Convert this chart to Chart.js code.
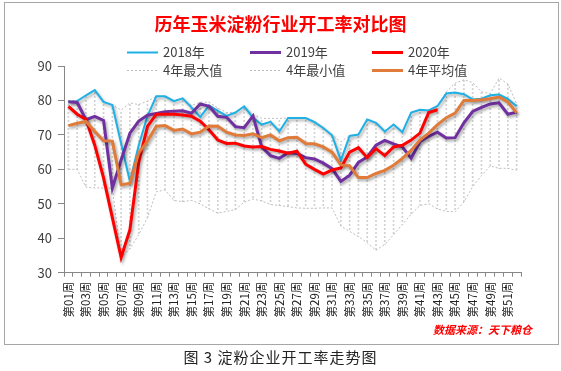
<!DOCTYPE html>
<html lang="zh">
<head>
<meta charset="UTF-8">
<title>历年玉米淀粉行业开工率对比图</title>
<script src="https://cdn.jsdelivr.net/npm/chart.js@4"></script>
<style>
  html, body { margin: 0; padding: 0; background: #fff; }
  body { width: 561px; height: 371px; position: relative; overflow: hidden; font-family: "Noto Sans CJK SC", sans-serif; }
  #frame { position: absolute; left: 4px; top: 2px; width: 553px; height: 341px; border: 1px solid #a6a6a6; }
  #wrap { position: absolute; left: 0; top: 0; width: 561px; height: 371px; }
  #caption { position: absolute; left: 0; top: 348px; width: 561px; text-align: center; font-size: 15px; line-height: 18px; letter-spacing: 1px; color: #222; }
</style>
</head>
<body>
<div id="frame"></div>
<div id="wrap"><canvas id="chart"></canvas></div>
<div id="caption">图 3 淀粉企业开工率走势图</div>
<script>
const FONT = '"Noto Sans CJK SC", "Noto Sans", sans-serif';

const weeks = ['第01周','第02周','第03周','第04周','第05周','第06周','第07周','第08周','第09周','第10周',
  '第11周','第12周','第13周','第14周','第15周','第16周','第17周','第18周','第19周','第20周',
  '第21周','第22周','第23周','第24周','第25周','第26周','第27周','第28周','第29周','第30周',
  '第31周','第32周','第33周','第34周','第35周','第36周','第37周','第38周','第39周','第40周',
  '第41周','第42周','第43周','第44周','第45周','第46周','第47周','第48周','第49周','第50周',
  '第51周','第52周'];

const y2018 = [79.5, 79.8, 81.5, 83, 79.6, 78.7, 67.5, 56.5, 67, 75.5,
  81.2, 81.2, 79.8, 80.6, 78, 75.2, 78.5, 77, 75.5, 76.5,
  78.3, 75, 73, 73.8, 71, 74.9, 74.9, 74.9, 73.7, 72,
  69.9, 62.6, 69.7, 70.1, 74.5, 73.5, 71, 73, 70.8, 76.5,
  77.3, 77.1, 78.4, 82, 82.3, 81.8, 80.3, 80.5, 81.5, 81.7,
  80.5, 78.3];

const y2019 = [79.6, 79.4, 74.4, 75.4, 74.2, 54.6, 62.7, 70.5, 74, 75.7,
  76.2, 76.7, 76.9, 77, 76.3, 79, 78.3, 75.4, 75.1, 72.4,
  72.1, 75.5, 66.5, 64, 63.2, 64.8, 64.6, 63.4, 63, 61.8,
  60.2, 56.5, 58.3, 62, 63.6, 67, 68.4, 67.4, 66.5, 63.2,
  68, 69.6, 70.8, 69.1, 69.2, 73.5, 76.8, 78, 79, 79.3,
  76, 76.6];

const y2020 = [78.3, 76, 74.5, 67, 57.5, 46, 34.4, 42.5, 62, 72.5,
  76, 76, 76, 75.8, 75.4, 74, 71.5, 68.5, 67.5, 67.6,
  66.8, 66.5, 66.6, 65.8, 65.3, 64.7, 65.3, 61.5, 60, 58.6,
  59.8, 60.4, 65, 66.3, 63.4, 66, 64, 66.5, 67, 68.5,
  70.5, 76.5, 77.3, null, null, null, null, null, null, null,
  null, null];

const max4 = [80, 80, 81.5, 83, 79.6, 78.7, 77.2, 79.3, 78.8, 79.8,
  81.2, 81.2, 80, 80.6, 78.5, 79.5, 79.5, 77.8, 76.5, 76.5,
  78.3, 76, 74.8, 74.8, 74.8, 74.9, 74.9, 74.9, 74, 72,
  70, 68, 69.8, 70.1, 74.5, 73.5, 71, 73, 70.8, 76.5,
  77.3, 77.1, 78.4, 82.5, 85, 86, 85.2, 82.5, 82, 86.5,
  84.8, 79];

const min4 = [60, 60, 54.8, 54.6, 54.6, 54.5, 34.4, 37, 41, 46,
  53.5, 54, 51, 50.6, 51, 50, 48.5, 47.3, 47.8, 48.3,
  50.5, 51.4, 50.8, 49.8, 49.5, 49.2, 48.8, 48.7, 48.7, 48.8,
  48.8, 43.5, 42, 40.5, 38.7, 36.5, 38.2, 41, 44, 47,
  49.5, 50, 48.5, 47.8, 47.7, 50.5, 55, 58.2, 61, 60.3,
  60.3, 59.7];

const avg4 = [72.7, 73.4, 73.9, 71, 68.3, 68.2, 55.5, 56, 64.8, 68.2,
  72.5, 72.7, 71.3, 71.7, 70.3, 70.8, 72.6, 72.5, 70.8, 70,
  69.8, 70.3, 69.2, 70, 68.3, 69.2, 69.3, 67.5, 67.4, 66.5,
  65, 61.3, 61, 57.6, 57.6, 58.8, 59.7, 61.2, 63.2, 65.5,
  68.5, 70.5, 73, 75, 76.3, 80, 80, 80.2, 80.5, 81,
  79.6, 76.4];

const yTicks = [30, 40, 50, 60, 70, 80, 90];

// dashed vertical hatch between min and max (high-low lines)
function dashPattern() {
  const c = document.createElement('canvas');
  c.width = 1; c.height = 4;
  const g = c.getContext('2d');
  g.fillStyle = '#d2d2d2';
  g.fillRect(0, 0, 1, 2);
  return g.createPattern(c, 'repeat');
}

const shadowPlugin = {
  id: 'lineShadow',
  beforeDatasetDraw(chart, args) {
    if (!chart.data.datasets[args.index].shadow) return;
    const ctx = chart.ctx;
    ctx.save();
    ctx.shadowColor = 'rgba(0,0,0,0.35)';
    ctx.shadowBlur = 3;
    ctx.shadowOffsetX = 1.5;
    ctx.shadowOffsetY = 2;
  },
  afterDatasetDraw(chart, args) {
    if (chart.data.datasets[args.index].shadow) chart.ctx.restore();
  }
};

// legend in fixed columns, like the original
const legendOrder = ['2018年', '2019年', '2020年', '4年最大值', '4年最小值', '4年平均值'];
const legendPlugin = {
  id: 'gridLegend',
  afterDraw(chart) {
    const ctx = chart.ctx;
    const colX = [127, 250, 372];
    const rowY = [52.5, 70.5];
    ctx.save();
    ctx.font = '13px ' + FONT;
    ctx.textBaseline = 'middle';
    ctx.fillStyle = '#404040';
    legendOrder.forEach((name, k) => {
      const ds = chart.data.datasets.find(d => d.label === name);
      const x = colX[k % 3], y = rowY[Math.floor(k / 3)];
      ctx.strokeStyle = ds.borderColor;
      ctx.lineWidth = ds.borderWidth;
      ctx.setLineDash(ds.borderDash || []);
      ctx.beginPath();
      ctx.moveTo(x, y);
      ctx.lineTo(x + 31, y);
      ctx.stroke();
      ctx.setLineDash([]);
      ctx.fillText(name, x + 36, y);
    });
    // source note
    ctx.font = 'italic bold 11px ' + FONT;
    ctx.fillStyle = '#ff0000';
    ctx.textAlign = 'right';
    ctx.fillText('数据来源：天下粮仓', 532, 330);
    ctx.restore();
  }
};

const ranges = min4.map((m, i) => [m, max4[i]]);

new Chart(document.getElementById('chart'), {
  data: {
    labels: weeks,
    datasets: [
      { type: 'line', label: '4年平均值', data: avg4, borderColor: '#e07b39', borderWidth: 3, order: 1, shadow: true },
      { type: 'line', label: '2020年', data: y2020, borderColor: '#ff0000', borderWidth: 3, order: 2, shadow: true },
      { type: 'line', label: '2019年', data: y2019, borderColor: '#7030a0', borderWidth: 3, order: 3, shadow: true },
      { type: 'line', label: '2018年', data: y2018, borderColor: '#1fb0e6', borderWidth: 2, order: 4, shadow: true },
      { type: 'line', label: '4年最大值', data: max4, borderColor: '#bdbdbd', borderWidth: 1, borderDash: [2, 2], order: 5 },
      { type: 'line', label: '4年最小值', data: min4, borderColor: '#bdbdbd', borderWidth: 1, borderDash: [2, 2], order: 6 },
      { type: 'bar', label: 'range', data: ranges, backgroundColor: dashPattern(), barThickness: 1, order: 9 }
    ]
  },
  options: {
    responsive: true,
    maintainAspectRatio: false,
    animation: false,
    layout: { padding: { left: 0, right: 0, top: 0, bottom: 38.3 } },
    elements: { point: { radius: 0 }, line: { tension: 0, fill: false } },
    plugins: {
      legend: { display: false },
      tooltip: { enabled: false },
      title: {
        display: true,
        text: '历年玉米淀粉行业开工率对比图',
        color: '#ff0000',
        font: { family: FONT, size: 18, weight: 'bold' },
        padding: { top: 13, bottom: 31.4 }
      }
    },
    scales: {
      x: {
        offset: true,
        grid: { display: true, drawOnChartArea: false, drawTicks: true, tickLength: 4, color: '#868686', offset: true },
        border: { color: '#868686' },
        ticks: {
          autoSkip: false, minRotation: 90, maxRotation: 90, padding: 5,
          color: '#222', font: { family: FONT, size: 11.5 },
          callback: (v, i) => (i % 2 === 0 ? weeks[i] : '')
        },
        afterFit: s => { s.height = 60; }
      },
      y: {
        min: 30, max: 90,
        afterBuildTicks: s => { s.ticks = yTicks.map(v => ({ value: v })); },
        ticks: { padding: 6, color: '#404040', font: { family: FONT, size: 13 } },
        grid: { drawOnChartArea: false, drawTicks: true, tickLength: 6, color: '#868686' },
        border: { color: '#868686' },
        afterFit: s => { s.width = 64; }
      },
      // empty right-hand spacer so the title stays centred on the whole frame
      yRight: {
        position: 'right', min: 30, max: 90,
        grid: { display: false }, border: { display: false }, ticks: { display: false },
        afterFit: s => { s.width = 40; }
      }
    }
  },
  plugins: [shadowPlugin, legendPlugin]
});
</script>
</body>
</html>
